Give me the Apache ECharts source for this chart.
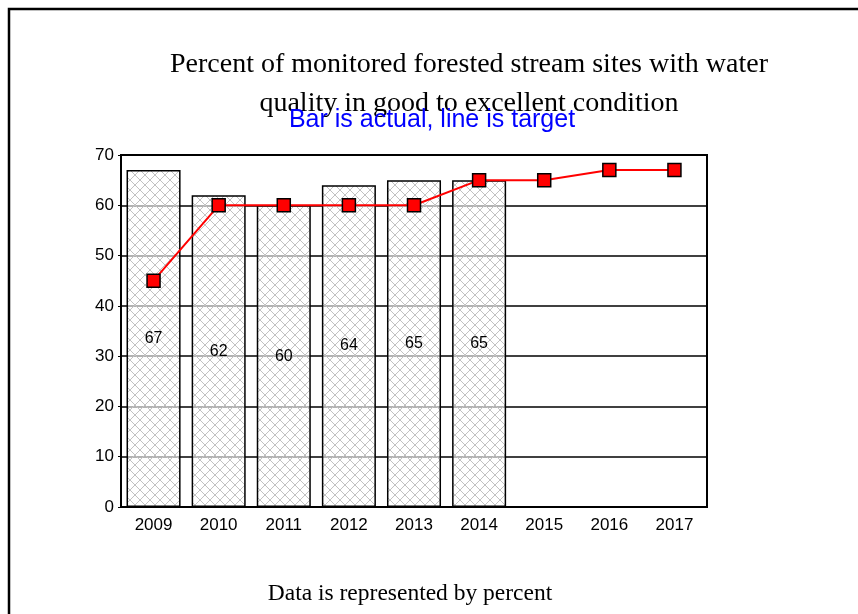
<!DOCTYPE html>
<html>
<head>
<meta charset="utf-8">
<script src="https://cdn.jsdelivr.net/npm/echarts@6/dist/echarts.min.js"></script>
<style>
  html, body { margin: 0; padding: 0; background: #fff; }
  #chart { width: 858px; height: 614px; }
</style>
</head>
<body>
<div id="chart"></div>
<script>
// data
const years = ['2009', '2010', '2011', '2012', '2013', '2014', '2015', '2016', '2017']
const actual = [67, 62, 60, 64, 65, 65, null, null, null]
const target = [45, 60, 60, 60, 60, 65, 65, 67, 67]

// crosshatch fill for the bars
const makeHatch = () => {
  const c = document.createElement('canvas')
  c.width = 10
  c.height = 10
  const ctx = c.getContext('2d')
  ctx.fillStyle = 'rgba(255,255,255,0.6)'
  ctx.fillRect(0, 0, 10, 10)
  ctx.strokeStyle = '#c2c2c2'
  ctx.lineWidth = 1
  ctx.beginPath()
  ctx.moveTo(0, 0); ctx.lineTo(10, 10)
  ctx.moveTo(10, 0); ctx.lineTo(0, 10)
  ctx.stroke()
  return c
}

const chart = echarts.init(document.getElementById('chart'))

const option = {
  backgroundColor: '#fff',
  animation: false,
  title: [
    {
      text: 'Percent of monitored forested stream sites with water\nquality in good to excellent condition',
      left: 464,
      top: 40,
      textAlign: 'center',
      textStyle: {
        fontFamily: '"Liberation Serif", "Times New Roman", serif',
        fontSize: 28,
        fontWeight: 'normal',
        color: '#000',
        lineHeight: 39,
      },
    },
    {
      text: 'Bar is actual, line is target',
      left: 427,
      top: 103,
      textAlign: 'center',
      textStyle: {
        fontFamily: '"Liberation Sans", Arial, sans-serif',
        fontSize: 25,
        fontWeight: 'normal',
        color: '#0000ff',
      },
    },
    {
      text: 'Data is represented by percent',
      left: 405,
      top: 577,
      textAlign: 'center',
      textStyle: {
        fontFamily: '"Liberation Serif", "Times New Roman", serif',
        fontSize: 23.5,
        fontWeight: 'normal',
        color: '#000',
      },
    },
  ],
  graphic: [
    {
      type: 'polyline',
      shape: { points: [[9, 614], [9, 9], [858, 9]] },
      style: { stroke: '#000', lineWidth: 2.5, fill: null },
      silent: true,
    },
  ],
  grid: {
    left: 121,
    right: 151,
    top: 155,
    bottom: 107,
    show: true,
    borderColor: '#000',
    borderWidth: 2,
    z: 5,
  },
  xAxis: {
    type: 'category',
    data: years,
    axisLine: { lineStyle: { color: '#000', width: 2 } },
    axisTick: { show: false },
    axisLabel: {
      color: '#000',
      fontFamily: '"Liberation Sans", Arial, sans-serif',
      fontSize: 17,
      margin: 10,
    },
  },
  yAxis: {
    type: 'value',
    min: 0,
    max: 70,
    interval: 10,
    axisLine: { show: true, lineStyle: { color: '#000', width: 2 } },
    axisTick: { show: true, length: 3, lineStyle: { color: '#000' } },
    axisLabel: {
      color: '#000',
      fontFamily: '"Liberation Sans", Arial, sans-serif',
      fontSize: 17,
      margin: 7,
    },
    splitLine: { show: true, lineStyle: { color: '#000', width: 1.5 } },
  },
  series: [
    {
      name: 'Actual',
      type: 'bar',
      data: actual,
      barWidth: '83%',
      itemStyle: {
        color: { image: makeHatch(), repeat: 'repeat' },
        borderColor: '#000',
        borderWidth: 1.5,
      },
      label: {
        show: true,
        position: 'inside',
        color: '#000',
        fontFamily: '"Liberation Sans", Arial, sans-serif',
        fontSize: 16,
      },
    },
    {
      name: 'Target',
      type: 'line',
      data: target,
      z: 6,
      symbol: 'rect',
      symbolSize: 13,
      lineStyle: { color: '#ff0000', width: 2 },
      itemStyle: { color: '#ff0000', borderColor: '#000', borderWidth: 1.5 },
    },
  ],
}

chart.setOption(option)
</script>
</body>
</html>
